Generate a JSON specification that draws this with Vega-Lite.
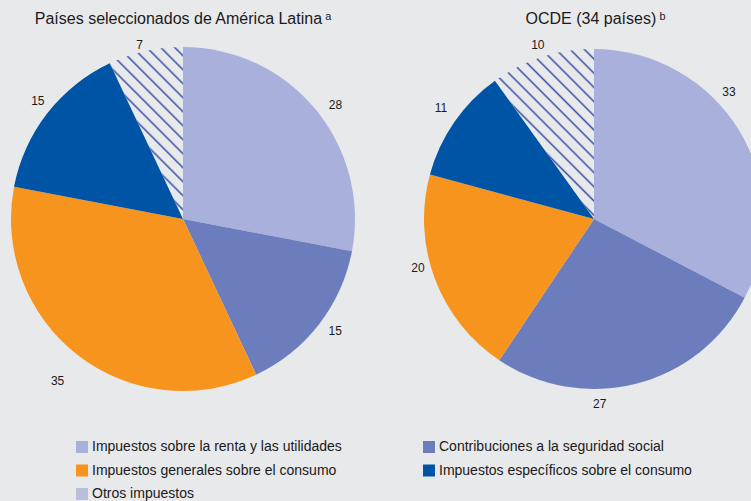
{
  "$schema": "https://vega.github.io/schema/vega-lite/v6.json",
  "background": "#e8e9eb",
  "padding": {"left": 0, "right": 0, "top": 11, "bottom": 0},
  "bounds": "flush",
  "spacing": 44,
  "config": {
    "view": {"stroke": null},
    "font": "Liberation Sans",
    "title": {"fontSize": 16, "fontWeight": "normal", "font": "Liberation Sans", "color": "#1a1a1a", "offset": 4}
  },
  "data": {
    "values": [
      {"pie": "AL", "cat": "Impuestos sobre la renta y las utilidades", "v": 28, "o": 1},
      {"pie": "AL", "cat": "Contribuciones a la seguridad social", "v": 15, "o": 2},
      {"pie": "AL", "cat": "Impuestos generales sobre el consumo", "v": 35, "o": 3},
      {"pie": "AL", "cat": "Impuestos específicos sobre el consumo", "v": 15, "o": 4},
      {"pie": "AL", "cat": "Otros impuestos", "v": 7, "o": 5},
      {"pie": "OCDE", "cat": "Impuestos sobre la renta y las utilidades", "v": 33, "o": 1},
      {"pie": "OCDE", "cat": "Contribuciones a la seguridad social", "v": 27, "o": 2},
      {"pie": "OCDE", "cat": "Impuestos generales sobre el consumo", "v": 20, "o": 3},
      {"pie": "OCDE", "cat": "Impuestos específicos sobre el consumo", "v": 11, "o": 4},
      {"pie": "OCDE", "cat": "Otros impuestos", "v": 10, "o": 5}
    ]
  },
  "resolve": {"scale": {"color": "independent", "theta": "independent"}, "legend": {"color": "independent"}},
  "hconcat": [
    {
      "width": 366,
      "height": 376,
      "title": {"text": "Países seleccionados de América Latina\u2009ᵃ"},
      "transform": [{"filter": "datum.pie === 'AL'"}],
      "encoding": {
        "theta": {"field": "v", "type": "quantitative", "stack": true},
        "order": {"field": "o", "type": "quantitative"}
      },
      "layer": [
        {
          "mark": {"type": "arc", "outerRadius": 172},
          "encoding": {
            "color": {
              "field": "cat",
              "type": "nominal",
              "scale": {
                "domain": ["Impuestos sobre la renta y las utilidades", "Contribuciones a la seguridad social", "Impuestos generales sobre el consumo", "Impuestos específicos sobre el consumo", "Otros impuestos"],
                "range": ["#a9b0db", "#6b7dbd", "#f7941d", "#0054a6", "#b9bfdb"]
              },
              "condition": {"test": "datum.o === 5", "value":
                  {"gradient": "linear", "x1": 0, "y1": 1, "x2": 0.5137, "y2": -0.207, "stops": [
                    {"offset": 0.042, "color": "rgba(63,84,171,0)"}, {"offset": 0.051, "color": "#3f54ab"}, {"offset": 0.060, "color": "rgba(63,84,171,0)"},
                    {"offset": 0.0991, "color": "rgba(63,84,171,0)"}, {"offset": 0.1081, "color": "#3f54ab"}, {"offset": 0.1171, "color": "rgba(63,84,171,0)"},
                    {"offset": 0.1562, "color": "rgba(63,84,171,0)"}, {"offset": 0.1652, "color": "#3f54ab"}, {"offset": 0.1742, "color": "rgba(63,84,171,0)"},
                    {"offset": 0.2133, "color": "rgba(63,84,171,0)"}, {"offset": 0.2223, "color": "#3f54ab"}, {"offset": 0.2313, "color": "rgba(63,84,171,0)"},
                    {"offset": 0.2704, "color": "rgba(63,84,171,0)"}, {"offset": 0.2794, "color": "#3f54ab"}, {"offset": 0.2884, "color": "rgba(63,84,171,0)"},
                    {"offset": 0.3275, "color": "rgba(63,84,171,0)"}, {"offset": 0.3365, "color": "#3f54ab"}, {"offset": 0.3455, "color": "rgba(63,84,171,0)"},
                    {"offset": 0.3846, "color": "rgba(63,84,171,0)"}, {"offset": 0.3936, "color": "#3f54ab"}, {"offset": 0.4026, "color": "rgba(63,84,171,0)"},
                    {"offset": 0.4417, "color": "rgba(63,84,171,0)"}, {"offset": 0.4507, "color": "#3f54ab"}, {"offset": 0.4597, "color": "rgba(63,84,171,0)"},
                    {"offset": 0.4987, "color": "rgba(63,84,171,0)"}, {"offset": 0.5077, "color": "#3f54ab"}, {"offset": 0.5167, "color": "rgba(63,84,171,0)"},
                    {"offset": 0.5558, "color": "rgba(63,84,171,0)"}, {"offset": 0.5648, "color": "#3f54ab"}, {"offset": 0.5738, "color": "rgba(63,84,171,0)"},
                    {"offset": 0.6129, "color": "rgba(63,84,171,0)"}, {"offset": 0.6219, "color": "#3f54ab"}, {"offset": 0.6309, "color": "rgba(63,84,171,0)"},
                    {"offset": 0.6700, "color": "rgba(63,84,171,0)"}, {"offset": 0.6790, "color": "#3f54ab"}, {"offset": 0.6880, "color": "rgba(63,84,171,0)"},
                    {"offset": 0.7271, "color": "rgba(63,84,171,0)"}, {"offset": 0.7361, "color": "#3f54ab"}, {"offset": 0.7451, "color": "rgba(63,84,171,0)"},
                    {"offset": 0.7842, "color": "rgba(63,84,171,0)"}, {"offset": 0.7932, "color": "#3f54ab"}, {"offset": 0.8022, "color": "rgba(63,84,171,0)"},
                    {"offset": 0.8413, "color": "rgba(63,84,171,0)"}, {"offset": 0.8503, "color": "#3f54ab"}, {"offset": 0.8593, "color": "rgba(63,84,171,0)"},
                    {"offset": 0.8984, "color": "rgba(63,84,171,0)"}, {"offset": 0.9074, "color": "#3f54ab"}, {"offset": 0.9164, "color": "rgba(63,84,171,0)"},
                    {"offset": 0.9555, "color": "rgba(63,84,171,0)"}, {"offset": 0.9645, "color": "#3f54ab"}, {"offset": 0.9735, "color": "rgba(63,84,171,0)"}
                  ]}
              },
              "legend": {
                "orient": "none",
                "legendX": 75,
                "legendY": 409,
                "direction": "horizontal",
                "columns": 2,
                "columnPadding": 80,
                "rowPadding": 9.5,
                "padding": 0,
                "title": null,
                "symbolType": "square",
                "symbolSize": 144,
                "symbolStrokeWidth": 0,
                "labelFont": "Liberation Sans",
                "labelFontSize": 14,
                "labelColor": "#1a1a1a",
                "labelLimit": 500,
                "labelOffset": 3,
                "encode": {
                  "symbols": {
                    "update": {
                      "fill": [
                        {"test": "datum.value === 'Otros impuestos'", "value": {"gradient": "linear", "x1": 0, "y1": 1, "x2": 1, "y2": 0, "stops": [
                          {"offset": 0.13, "color": "rgba(63,84,171,0)"}, {"offset": 0.2, "color": "#3f54ab"}, {"offset": 0.27, "color": "rgba(63,84,171,0)"},
                          {"offset": 0.43, "color": "rgba(63,84,171,0)"}, {"offset": 0.5, "color": "#3f54ab"}, {"offset": 0.57, "color": "rgba(63,84,171,0)"},
                          {"offset": 0.73, "color": "rgba(63,84,171,0)"}, {"offset": 0.8, "color": "#3f54ab"}, {"offset": 0.87, "color": "rgba(63,84,171,0)"}
                        ]}},
                        {"test": "datum.value === 'Impuestos sobre la renta y las utilidades'", "value": "#a9b0db"},
                        {"test": "datum.value === 'Contribuciones a la seguridad social'", "value": "#6b7dbd"},
                        {"test": "datum.value === 'Impuestos generales sobre el consumo'", "value": "#f7941d"},
                        {"value": "#0054a6"}
                      ]
                    }
                  }
                }
              }
            }
          }
        },
        {"mark": {"type": "text", "clip": true, "radius": 190, "dx": 6, "dy": 7, "fontSize": 12, "color": "#1a1a1a"},
         "encoding": {"text": {"condition": {"test": "datum.o === 1", "field": "v", "type": "quantitative"}, "value": ""}}},
        {"mark": {"type": "text", "clip": true, "radius": 190, "dx": 2, "dy": -4, "fontSize": 12, "color": "#1a1a1a"},
         "encoding": {"text": {"condition": {"test": "datum.o === 2", "field": "v", "type": "quantitative"}, "value": ""}}},
        {"mark": {"type": "text", "clip": true, "radius": 190, "dx": -9, "dy": 12, "fontSize": 12, "color": "#1a1a1a"},
         "encoding": {"text": {"condition": {"test": "datum.o === 3", "field": "v", "type": "quantitative"}, "value": ""}}},
        {"mark": {"type": "text", "clip": true, "radius": 190, "dx": 5, "dy": -2, "fontSize": 12, "color": "#1a1a1a"},
         "encoding": {"text": {"condition": {"test": "datum.o === 4", "field": "v", "type": "quantitative"}, "value": ""}}},
        {"mark": {"type": "text", "clip": true, "radius": 190, "dx": -2, "dy": 11, "fontSize": 12, "color": "#1a1a1a"},
         "encoding": {"text": {"condition": {"test": "datum.o === 5", "field": "v", "type": "quantitative"}, "value": ""}}}
      ]
    },
    {
      "width": 341,
      "height": 376,
      "title": {"text": "OCDE (34 países)\u2009ᵇ", "dx": 15},
      "transform": [{"filter": "datum.pie === 'OCDE'"}],
      "encoding": {
        "theta": {"field": "v", "type": "quantitative", "stack": true},
        "order": {"field": "o", "type": "quantitative"}
      },
      "layer": [
        {
          "mark": {"type": "arc", "outerRadius": 170, "xOffset": 13.5, "clip": true},
          "encoding": {
            "color": {
              "field": "cat",
              "type": "nominal",
              "legend": null,
              "scale": {
                "domain": ["Impuestos sobre la renta y las utilidades", "Contribuciones a la seguridad social", "Impuestos generales sobre el consumo", "Impuestos específicos sobre el consumo", "Otros impuestos"],
                "range": ["#a9b0db", "#6b7dbd", "#f7941d", "#0054a6", "#b9bfdb"]
              },
              "condition": {"test": "datum.o === 5", "value":
                  {"gradient": "linear", "x1": 0, "y1": 1, "x2": 0.6887, "y2": -0.1814, "stops": [
                    {"offset": 0.0576, "color": "rgba(63,84,171,0)"}, {"offset": 0.0658, "color": "#3f54ab"}, {"offset": 0.0740, "color": "rgba(63,84,171,0)"},
                    {"offset": 0.1103, "color": "rgba(63,84,171,0)"}, {"offset": 0.1185, "color": "#3f54ab"}, {"offset": 0.1267, "color": "rgba(63,84,171,0)"},
                    {"offset": 0.1631, "color": "rgba(63,84,171,0)"}, {"offset": 0.1713, "color": "#3f54ab"}, {"offset": 0.1795, "color": "rgba(63,84,171,0)"},
                    {"offset": 0.2159, "color": "rgba(63,84,171,0)"}, {"offset": 0.2241, "color": "#3f54ab"}, {"offset": 0.2323, "color": "rgba(63,84,171,0)"},
                    {"offset": 0.2686, "color": "rgba(63,84,171,0)"}, {"offset": 0.2768, "color": "#3f54ab"}, {"offset": 0.2850, "color": "rgba(63,84,171,0)"},
                    {"offset": 0.3214, "color": "rgba(63,84,171,0)"}, {"offset": 0.3296, "color": "#3f54ab"}, {"offset": 0.3378, "color": "rgba(63,84,171,0)"},
                    {"offset": 0.3742, "color": "rgba(63,84,171,0)"}, {"offset": 0.3824, "color": "#3f54ab"}, {"offset": 0.3906, "color": "rgba(63,84,171,0)"},
                    {"offset": 0.4270, "color": "rgba(63,84,171,0)"}, {"offset": 0.4352, "color": "#3f54ab"}, {"offset": 0.4434, "color": "rgba(63,84,171,0)"},
                    {"offset": 0.4797, "color": "rgba(63,84,171,0)"}, {"offset": 0.4879, "color": "#3f54ab"}, {"offset": 0.4961, "color": "rgba(63,84,171,0)"},
                    {"offset": 0.5325, "color": "rgba(63,84,171,0)"}, {"offset": 0.5407, "color": "#3f54ab"}, {"offset": 0.5489, "color": "rgba(63,84,171,0)"},
                    {"offset": 0.5853, "color": "rgba(63,84,171,0)"}, {"offset": 0.5935, "color": "#3f54ab"}, {"offset": 0.6017, "color": "rgba(63,84,171,0)"},
                    {"offset": 0.6380, "color": "rgba(63,84,171,0)"}, {"offset": 0.6462, "color": "#3f54ab"}, {"offset": 0.6544, "color": "rgba(63,84,171,0)"},
                    {"offset": 0.6908, "color": "rgba(63,84,171,0)"}, {"offset": 0.6990, "color": "#3f54ab"}, {"offset": 0.7072, "color": "rgba(63,84,171,0)"},
                    {"offset": 0.7436, "color": "rgba(63,84,171,0)"}, {"offset": 0.7518, "color": "#3f54ab"}, {"offset": 0.7600, "color": "rgba(63,84,171,0)"},
                    {"offset": 0.7963, "color": "rgba(63,84,171,0)"}, {"offset": 0.8045, "color": "#3f54ab"}, {"offset": 0.8127, "color": "rgba(63,84,171,0)"},
                    {"offset": 0.8491, "color": "rgba(63,84,171,0)"}, {"offset": 0.8573, "color": "#3f54ab"}, {"offset": 0.8655, "color": "rgba(63,84,171,0)"},
                    {"offset": 0.9019, "color": "rgba(63,84,171,0)"}, {"offset": 0.9101, "color": "#3f54ab"}, {"offset": 0.9183, "color": "rgba(63,84,171,0)"},
                    {"offset": 0.9546, "color": "rgba(63,84,171,0)"}, {"offset": 0.9628, "color": "#3f54ab"}, {"offset": 0.9710, "color": "rgba(63,84,171,0)"}
                  ]}
              }
            }
          }
        },
        {"mark": {"type": "text", "clip": true, "radius": 190, "xOffset": 13.5, "dx": -27.5, "dy": -28.6, "fontSize": 12, "color": "#1a1a1a"},
         "encoding": {"text": {"condition": {"test": "datum.o === 1", "field": "v", "type": "quantitative"}, "value": ""}}},
        {"mark": {"type": "text", "radius": 190, "xOffset": 13.5, "dx": -41, "dy": 1, "fontSize": 12, "color": "#1a1a1a"},
         "encoding": {"text": {"condition": {"test": "datum.o === 2", "field": "v", "type": "quantitative"}, "value": ""}}},
        {"mark": {"type": "text", "clip": true, "radius": 190, "xOffset": 13.5, "dx": 2, "dy": -17.5, "fontSize": 12, "color": "#1a1a1a"},
         "encoding": {"text": {"condition": {"test": "datum.o === 3", "field": "v", "type": "quantitative"}, "value": ""}}},
        {"mark": {"type": "text", "clip": true, "radius": 190, "xOffset": 13.5, "dx": 3, "dy": -2.5, "fontSize": 12, "color": "#1a1a1a"},
         "encoding": {"text": {"condition": {"test": "datum.o === 4", "field": "v", "type": "quantitative"}, "value": ""}}},
        {"mark": {"type": "text", "clip": true, "radius": 190, "xOffset": 13.5, "dx": 2, "dy": 7, "fontSize": 12, "color": "#1a1a1a"},
         "encoding": {"text": {"condition": {"test": "datum.o === 5", "field": "v", "type": "quantitative"}, "value": ""}}}
      ]
    }
  ]
}
